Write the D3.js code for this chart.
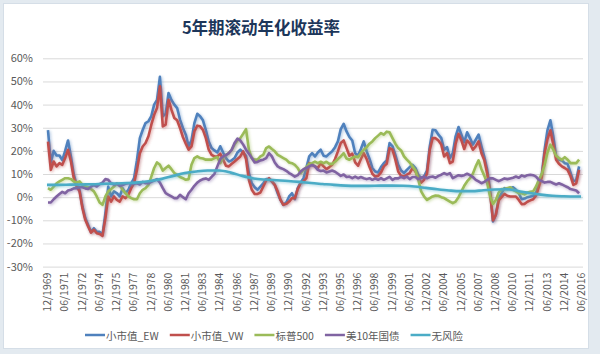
<!DOCTYPE html>
<html>
<head>
<meta charset="utf-8">
<script src="https://cdn.jsdelivr.net/npm/d3@7/dist/d3.min.js"></script>
<style>
html,body{margin:0;padding:0;background:#e3eaf0;}
svg{display:block;}
text{font-family:"Noto Sans CJK SC","Noto Sans",sans-serif;}
</style>
</head>
<body>
<script>
// ---------------- DATA ----------------
const title = "5年期滚动年化收益率";
const seriesNames = ["小市值_EW", "小市值_VW", "标普500", "美10年国债", "无风险"];
const seriesColors = ["#4F81BD", "#C0504D", "#9BBB59", "#8064A2", "#4BACC6"];
const yTicks = [-30, -20, -10, 0, 10, 20, 30, 40, 50, 60];
const xTickLabels = ["12/1969","06/1971","12/1972","06/1974","12/1975","06/1977","12/1978","06/1980",
  "12/1981","06/1983","12/1984","06/1986","12/1987","06/1989","12/1990","06/1992","12/1993","06/1995",
  "12/1996","06/1998","12/1999","06/2001","12/2002","06/2004","12/2005","06/2007","12/2008","06/2010",
  "12/2011","06/2013","12/2014","06/2016"];
// quarterly observations, first = 12/1969, last = 06/2016
const firstMonth = "12/1969";
const lastMonth = "06/2016";
const smallEW = [29,15,20,18,18,16,20,24.5,17.6,9.7, 5.3,3.2,-4,-9,-12,-15,-13.4,-15,-15,-16.3,
  -7,4.6,0.3,2.5,1.7,0.3,3.9,1.7,3.2,6, 8.2,16,25.5,29,32,32.8,35,40,42,52, 35,36,45,42,40,38.5,
  33.5,29.9,27,22,24.5,32,36,35,33.2,29, 24,21.2,20.2,19.3,22,19.3,16.9,15.4,15.9,16.9,
  19.3,20.5,19.3,17.9,10.4,6,4.3,3.2,4.6,6, 7.8,7.8,6.8,5.3,1.7,-1.2,-3.3,-2.3,0.3,1.7, -0.9,3.9,6.3,8.2,12.6,17.6,19,17.6,
  19.3,20.5,17.9,17.6,18.8,19.8,21.6,24.1,29.4,31.7, 28.4,26,24.5,19,17.9,20.8,24.1,19.8,16.5,12.6,
  11.1,10.7,13,14.7,15.9,23.4,22,18.3,14,11.5, 10.4,11.8,13,14,12.6,9.7,8.2,8.9,11.5,21.9, 29.1,28.9,27,25.5,20.5,21.6,16.9,
  19,26.3,30.3,27,23.7,28,25.5,22.7,24.8,27, 22,17.3,11.8,3.2,-10.5,-7.6,-0.4,1.7,3.9,3.5,
  3.9,4.3,3.2,1.7,-0.9,-0.6,0,0.3,0.6,2, 6,9.7,20.5,29,33.2,26.3,17.6,16.2,15.9,14.7, 14.4,10.7,6.8,7.5,13.3,14.7];
const smallVW = [24,11.8,15.4,13.3,14.7,14,16.9,20.5,15.4,8.2, 4.6,2.5,-4.8,-9.8,-12.7,-15.3,-14.1,-15.6,-15.9,-16.7,
  -9.1,0.3,-1.9,0.3,-1.2,-1.9,0.3,-0.4,1,3.9, 6,11.8,19,21.9,23.4,26.3,31.3,35.6,38.5,47.9, 30.6,31.3,42.1,37.8,34.2,33.2,
  29.9,26,23.1,20.5,21.9,28.4,30.9,30.6,29.1,25.5, 20.5,18.3,17.6,17.6,18.8,16.2,13.6,13.3,14.4,15.4,
  16.5,17.6,19.8,16.5,7.5,3.2,1.4,1.4,2,4.6, 7.2,8.2,6.8,5.3,2.5,-1.2,-3.3,-2.9,-1.9,-0.4, -0.4,3.5,6,6.8,8.2,14.7,14,13.3,
  12.6,14.7,13.3,12.1,13,14,16.5,19.8,23.4,24.5, 21.2,17.9,18.8,15,13.6,16.5,19,16.5,13,10.1,
  8.9,9.2,10.7,13.3,14.4,21.2,20.5,16.2,11.1,9.2, 8.9,9.7,10.4,12.6,11.1,8.2,6.3,7.5,10.1,20.5, 25.5,25.5,24.5,22.7,17.6,19,14.7,
  15.4,23.1,27.4,24.5,20.8,24.5,23.1,20.5,21.9,24.1, 19,15.9,10.1,1.7,-10,-7.6,-1.4,0,1.4,0.6,
  0.3,0.3,0.3,-1.2,-3,-2.9,-2,-1.4,-0.9,0.6, 4.6,8.7,19,25.1,28.9,22.7,16.2,14.4,13.3,12.6, 11.8,9.2,5.3,6,11.8,13.3];
const sp500 = [3.9,3.2,4.6,6,6.8,7.5,8.2,8.2,7.8,6.8, 6.3,6.8,5.3,4.6,4.3,3.5,2.5,0.3,-2.3,-3.3,
  0.3,2.5,3.5,4.6,6,5.3,3.2,1.7,0.3,-0.4, -0.9,-0.9,1.7,3.2,3.9,5.3,8.9,12.6,15,14, 11.5,12.6,13.6,12.1,10.4,9.7,
  8.7,8.2,7.5,7.8,14,16.9,17.6,16.9,16.7,16.2, 16.2,16.2,16.9,17.3,14.7,17.3,18.3,19,20.5,22.7,
  24.5,25.5,27.4,29.4,20.5,16.9,16.2,16.2,17.6,18.3, 21.2,21.9,20.8,19.8,18.3,17.6,16.9,16.2,15,14.7, 14,12.6,10.4,11.8,13,14.4,14.7,15.4,
  14.7,15.3,14.7,15.3,14.4,14.4,15.3,16.5,17.6,19, 16.7,16.2,17,17.6,17.3,19,20.5,21.6,23.1,24.1,
  25.5,26.6,27.7,27,28.3,28,25.5,23.1,21.2,20.2, 17.6,16.2,15,13.3,11.5,7.5,2.5,0.3,-1.2,-0.4, 0.3,0.7,0.6,0,-0.4,-1.2,-1.9,
  -2.6,-1.9,0,2.5,4.9,6.8,8.2,10.1,13.3,15.9, 12.1,9.2,6,0.3,-2.9,-1.2,2,3.5,3.5,3.9,
  4.3,3.2,2.5,1.7,1.7,1.2,2,2.3,2.5,4.6, 7.5,10.1,14,19.3,22.7,20.5,17.9,16.9,16.2,17.3, 16.2,14.7,14.7,14.7,16.2,15];
const ust10 = [-2.3,-2.3,-0.9,0.3,1.4,2.3,1.7,2.9,3.2,3.8, 3.9,4.3,4.3,3.8,3.5,4.6,5.2,4.6,5.6,6.3,
  7.8,7.5,6,5.5,5.8,4.9,5.2,5.8,6,6, 5.8,6,5.5,6.6,6,6,6.6,7.2,7.8,6.3, 3.9,1.7,1,0.3,-0.4,-0.4,
  1,0,-0.9,1.7,3.2,4.9,6.3,7.2,7.8,8.1, 7.5,8.8,10.1,13.3,16.5,17.6,18.2,19,20.5,23.4,
  25.3,24.5,22.7,20.5,18.8,16.9,15,15.2,15.9,16.2, 16.9,19,17.6,15,13.3,12.6,12.1,11.4,10.4,9.7, 8.9,9.5,11.1,12.1,12.6,13.3,13.9,13.3,
  11.8,11.3,11.5,10.7,11.1,11.5,11,10.1,9.2,9.8, 8.7,8.9,8.2,8.9,8.2,8.7,8.2,7.8,8.2,7.5,
  8.1,7.5,8.2,7.5,8.1,8.8,7.5,8.2,8.1,8.8, 8.2,8.9,7.8,8.7,8.7,7.8,8.4,8.9,8.2,8.7, 8.9,8.4,9.2,9.7,10.4,9.8,10.4,
  8.2,8.9,9.5,9.2,9.5,10.1,9.5,8.7,7.5,6.8, 6,6.6,7.5,8.2,8.1,7.5,6.9,7.5,8.1,7.8,
  8.1,8.4,8.9,8.4,9.4,8.9,9.5,9.7,9.5,8.9, 7.5,6.9,6.3,6.6,6.6,6,5.5,6,5.5,4.9, 4.3,3.5,3.2,2.9,1.7,1];
// risk-free: year-end observations 12/1969 … 12/2015, then 06/2016
const riskFreeLabels = ["12/1969","12/1970","12/1971","12/1972","12/1973","12/1974","12/1975","12/1976","12/1977","12/1978",
  "12/1979","12/1980","12/1981","12/1982","12/1983","12/1984","12/1985","12/1986","12/1987","12/1988",
  "12/1989","12/1990","12/1991","12/1992","12/1993","12/1994","12/1995","12/1996","12/1997","12/1998",
  "12/1999","12/2000","12/2001","12/2002","12/2003","12/2004","12/2005","12/2006","12/2007","12/2008",
  "12/2009","12/2010","12/2011","12/2012","12/2013","12/2014","12/2015","06/2016"];
const riskFree = [5.3,5.3,5.4,5.5,5.6,5.8,5.9,6.1,6.4,7, 7.9,9.2,10.4,11.1,11.5,11.5,10.6,9.2,8.1,7.6,
  7.3,7,6.6,6.1,5.7,5.3,5,4.9,4.9,5, 5,4.9,4.6,4,3.4,2.9,2.6,2.6,3,3.3, 3.4,2.7,1.8,1.1,0.6,0.4,0.3,0.3];

// ---------------- CHART ----------------
const W = 600, H = 354;
const parse = d3.timeParse("%m/%Y");
const quarterDates = d3.timeMonth.every(3).range(parse(firstMonth), d3.timeMonth.offset(parse(lastMonth), 1));

const svg = d3.select("body").append("svg").attr("width", W).attr("height", H);

const defs = svg.append("defs");
const f = defs.append("filter").attr("id", "glow").attr("x", "-5%").attr("y", "-10%").attr("width", "110%").attr("height", "120%");
f.append("feGaussianBlur").attr("in", "SourceGraphic").attr("stdDeviation", 1.4).attr("result", "b");
f.append("feOffset").attr("in", "b").attr("dx", 0.6).attr("dy", 0.8).attr("result", "o");
f.append("feComponentTransfer").attr("in", "o").attr("result", "c")
  .append("feFuncA").attr("type", "linear").attr("slope", 0.5);
const m = f.append("feMerge");
m.append("feMergeNode").attr("in", "c");
m.append("feMergeNode").attr("in", "SourceGraphic");

// panel
svg.append("rect").attr("x", 3.5).attr("y", 3.5).attr("width", 585).attr("height", 345)
  .attr("fill", "#fff").attr("stroke", "#d5dee7");

const plotL = 43, plotR = 583;
const x = d3.scaleTime().domain([parse(firstMonth), parse(lastMonth)]).range([47, 581]);
const y = d3.scaleLinear().domain([-30, 60]).range([266.6, 58.3]);

// title
svg.append("text").attr("x", 261).attr("y", 27).attr("text-anchor", "middle")
  .attr("dominant-baseline", "central").attr("font-size", 16.5).attr("font-weight", "bold")
  .attr("fill", "#1c365a").text(title);

// gridlines + y labels
const yAxis = d3.axisLeft(y).tickValues(yTicks).tickSize(-(plotR - plotL)).tickPadding(10)
  .tickFormat(d => d + "%");
const gy = svg.append("g").attr("transform", `translate(${plotL},0)`).call(yAxis);
gy.select(".domain").remove();
gy.selectAll(".tick line").attr("stroke", "#d9d9d9");
gy.selectAll(".tick text").attr("font-size", 11).attr("fill", "#595959")
  .attr("font-family", '"Noto Sans CJK SC","Noto Sans",sans-serif');

// x labels
const xAxis = d3.axisBottom(x).tickValues(xTickLabels.map(parse)).tickSize(0).tickFormat(d3.timeFormat("%m/%Y"));
const gx = svg.append("g").attr("transform", `translate(0,${y(-30)})`).call(xAxis);
gx.select(".domain").remove();
gx.selectAll(".tick text").attr("font-size", 10.5).attr("fill", "#595959")
  .attr("font-family", '"Noto Sans CJK SC","Noto Sans",sans-serif')
  .attr("transform", "rotate(-90)").attr("text-anchor", "end")
  .attr("x", -6).attr("y", 0).attr("dy", "0.35em");

// lines
const quarterly = [smallEW, smallVW, sp500, ust10];
const line = d3.line().x(d => x(d[0])).y(d => y(d[1]));
const gl = svg.append("g");
quarterly.forEach((vals, i) => {
  gl.append("path").datum(vals.map((v, k) => [quarterDates[k], v]))
    .attr("d", line).attr("fill", "none").attr("stroke", seriesColors[i])
    .attr("stroke-width", 2.6).attr("stroke-linejoin", "round").attr("filter", "url(#glow)");
});
const rfLine = d3.line().x(d => x(d[0])).y(d => y(d[1])).curve(d3.curveMonotoneX);
gl.append("path").datum(riskFree.map((v, k) => [parse(riskFreeLabels[k]), v]))
  .attr("d", rfLine).attr("fill", "none").attr("stroke", seriesColors[4])
  .attr("stroke-width", 2.6).attr("filter", "url(#glow)");

// legend
const lg = svg.append("g").attr("transform", "translate(85,335)");
let cx = 0;
seriesNames.forEach((n, i) => {
  const g = lg.append("g").attr("transform", `translate(${cx},0)`);
  g.append("line").attr("x1", 0).attr("x2", 20).attr("y1", 0).attr("y2", 0)
    .attr("stroke", seriesColors[i]).attr("stroke-width", 2.5);
  const t = g.append("text").attr("x", 21).attr("y", 0).attr("dominant-baseline", "central")
    .attr("font-size", 10.5).attr("fill", "#595959").text(n);
  cx += 21 + t.node().getComputedTextLength() + 11;
});
</script>
</body>
</html>
